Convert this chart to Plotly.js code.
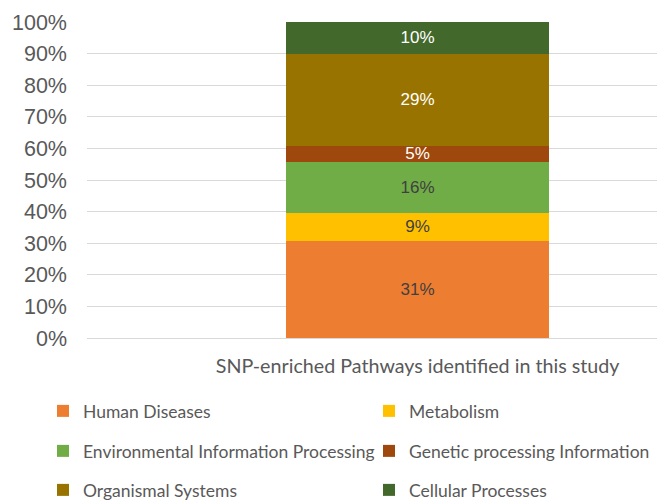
<!DOCTYPE html>
<html>
<head>
<meta charset="utf-8">
<script src="https://cdn.plot.ly/plotly-3.0.1.min.js"></script>
<style>html,body{margin:0;padding:0;background:#fff;}#chart{width:657px;height:501px;}</style>
</head>
<body>
<div id="chart"></div>
<script>
const category = ["SNP-enriched Pathways identified in this study"];
const seriesNames = ["Human Diseases", "Metabolism", "Environmental Information Processing", "Genetic processing Information", "Organismal Systems", "Cellular Processes"];
const seriesValues = [30.8, 8.9, 16.1, 5.1, 29.1, 10.0];
const seriesColors = ["#ED7D31", "#FFC000", "#70AD47", "#9E480E", "#997300", "#43682B"];
const labelColors = ["#404040", "#404040", "#404040", "#ffffff", "#ffffff", "#ffffff"];
const yTickVals = [0, 10, 20, 30, 40, 50, 60, 70, 80, 90, 100];
const yTickText = ["0%", "10%", "20%", "30%", "40%", "50%", "60%", "70%", "80%", "90%", "100%"];

const legendFont = {family: "Lato, 'Open Sans', sans-serif", size: 17.5, color: "#595959"};
const legendX = [43, 369];
const legendY = [411, 451, 490];

const traces = seriesNames.map((name, i) => ({
  type: "bar",
  name: name,
  x: category,
  y: [seriesValues[i]],
  marker: {color: seriesColors[i], line: {width: 0}},
  width: 0.6,
  texttemplate: "%{y:.0f}%",
  textposition: "inside",
  insidetextanchor: "middle",
  constraintext: "none",
  textangle: 0,
  textfont: {family: "Liberation Sans, Arial, sans-serif", size: 17, color: labelColors[i]},
  hoverinfo: "skip",
  legend: i === 0 ? "legend" : "legend" + (i + 1)
}));

const layout = {
  width: 657, height: 501,
  margin: {l: 87, r: 0, t: 22, b: 163},
  paper_bgcolor: "#ffffff", plot_bgcolor: "#ffffff",
  barmode: "stack",
  bargap: 0,
  showlegend: true,
  xaxis: {
    type: "category",
    range: [-0.754, 0.546],
    showgrid: false, zeroline: false, showline: false,
    ticks: "", ticklabelstandoff: 14,
    tickfont: {family: "Lato, 'Open Sans', sans-serif", size: 19.7, color: "#595959"},
    fixedrange: true
  },
  yaxis: {
    range: [0, 100],
    tickvals: yTickVals, ticktext: yTickText,
    showgrid: true, gridcolor: "#D9D9D9", gridwidth: 1,
    zeroline: true, zerolinecolor: "#D9D9D9", zerolinewidth: 1,
    showline: false, ticks: "", ticklabelstandoff: 19,
    tickfont: {family: "Liberation Sans, Arial, sans-serif", size: 21.5, color: "#595959"},
    fixedrange: true
  }
};

seriesNames.forEach((n, i) => {
  const key = i === 0 ? "legend" : "legend" + (i + 1);
  layout[key] = {
    xref: "container", yref: "container",
    x: legendX[i % 2] / 657, xanchor: "left",
    y: 1 - legendY[Math.floor(i / 2)] / 501, yanchor: "middle",
    orientation: "h",
    bgcolor: "rgba(0,0,0,0)", borderwidth: 0,
    font: legendFont,
    itemwidth: 30,
    itemclick: false, itemdoubleclick: false
  };
});

Plotly.newPlot("chart", traces, layout, {displayModeBar: false, staticPlot: true});
</script>
</body>
</html>
